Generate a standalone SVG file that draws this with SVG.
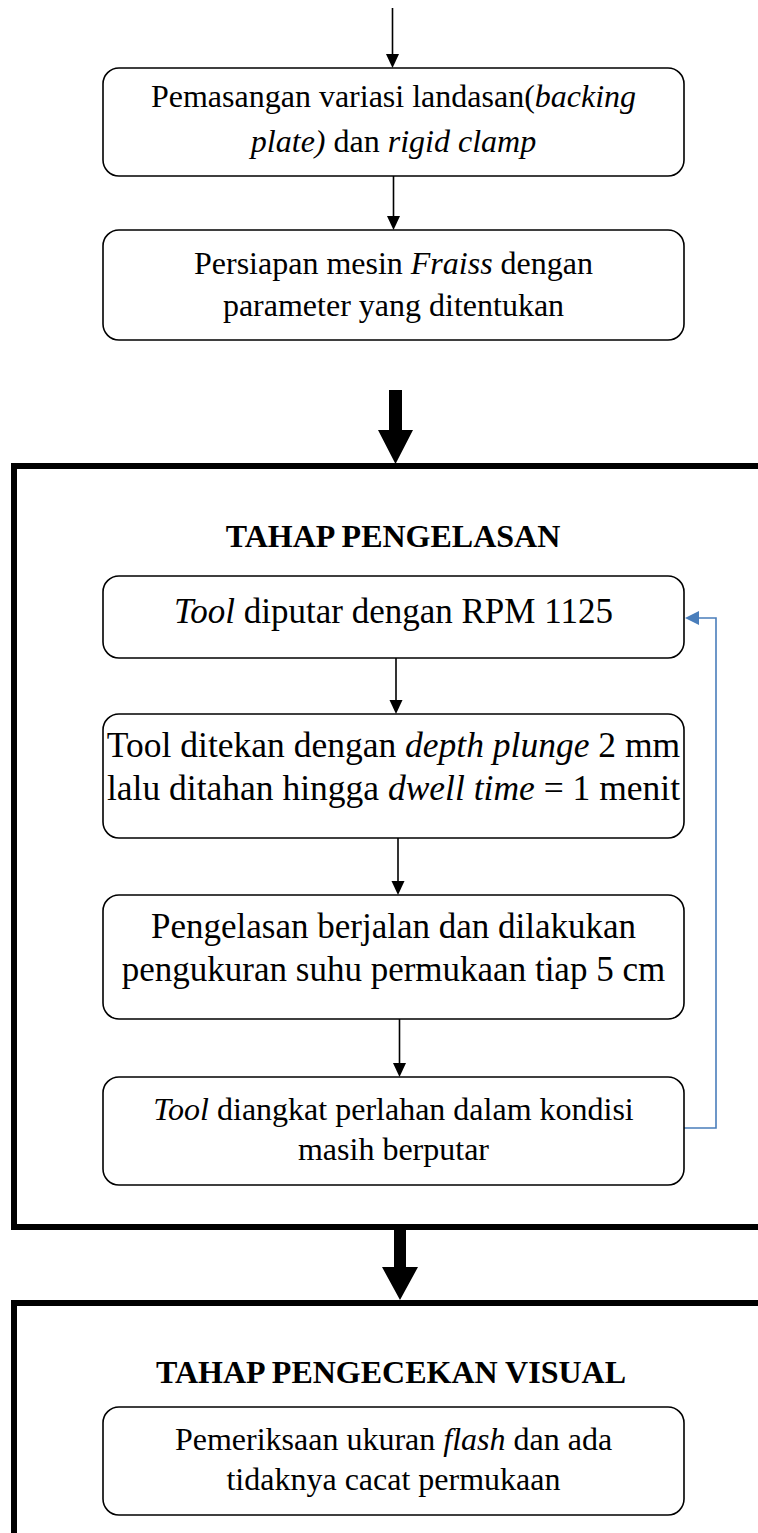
<svg xmlns="http://www.w3.org/2000/svg" width="758" height="1533" viewBox="0 0 758 1533">
<style>
.box{fill:#fff;stroke:#000;stroke-width:1.6}
.t{font-family:"Liberation Serif","Times New Roman",serif;font-size:32px;fill:#000;text-anchor:middle}
.big{font-size:35px}
.h{font-family:"Liberation Serif","Times New Roman",serif;font-size:32px;font-weight:bold;fill:#000;text-anchor:middle}
.i{font-style:italic}
.ln{stroke:#000;stroke-width:1.6;fill:none}
.frame{stroke:#000;stroke-width:6;fill:none}
.blue{stroke:#4a7ebb;stroke-width:1.6;fill:none}
</style>
<rect width="758" height="1533" fill="#fff"/>
<g id="frames">
<path class="frame" d="M765 466 H14 V1227 H765"/>
<path class="frame" d="M765 1303 H14 V1540"/>
</g>
<g id="connectors">
<line class="ln" x1="392.5" y1="8" x2="392.5" y2="55"/>
<polygon points="386,54 399,54 392.5,68"/>
<line class="ln" x1="393.5" y1="172" x2="393.5" y2="217"/>
<polygon points="387,216 400,216 393.5,230"/>
<polygon points="389,390 402,390 402,430 413,430 395.5,464 378,430 389,430"/>
<line class="ln" x1="396" y1="655" x2="396" y2="701"/>
<polygon points="389.5,700 402.5,700 396,714"/>
<line class="ln" x1="398" y1="835" x2="398" y2="882"/>
<polygon points="391.5,881 404.5,881 398,895"/>
<line class="ln" x1="399.5" y1="1016" x2="399.5" y2="1064"/>
<polygon points="393,1063 406,1063 399.5,1077"/>
<polygon points="394,1230 406,1230 406,1267 418,1267 400,1300 382,1267 394,1267"/>
<path class="blue" d="M684 1128 H716 V618 H698"/>
<polygon fill="#4a7ebb" points="699,611 699,625 685,618"/>
</g>
<g id="n1"><rect class="box" x="103" y="68" width="581" height="108" rx="16"/>
<text class="t" x="393.5" y="107">Pemasangan variasi landasan(<tspan class="i">backing</tspan></text>
<text class="t" x="393.5" y="152"><tspan class="i">plate)</tspan> dan <tspan class="i">rigid clamp</tspan></text></g>
<g id="n2"><rect class="box" x="103" y="230" width="581" height="110" rx="16"/>
<text class="t" x="393.5" y="274">Persiapan mesin <tspan class="i">Fraiss</tspan> dengan</text>
<text class="t" x="393.5" y="316">parameter yang ditentukan</text></g>
<g id="title1"><text class="h" x="393" y="547">TAHAP PENGELASAN</text></g>
<g id="n3"><rect class="box" x="103" y="576" width="581" height="82" rx="16"/>
<text class="t big" x="393.5" y="623"><tspan class="i">Tool</tspan> diputar dengan RPM 1125</text></g>
<g id="n4"><rect class="box" x="103" y="714" width="581" height="124" rx="16"/>
<text class="t big" x="393.5" y="757" style="font-size:35.5px">Tool ditekan dengan <tspan class="i">depth plunge</tspan> 2 mm</text>
<text class="t big" x="393.5" y="800" style="font-size:35.5px">lalu ditahan hingga <tspan class="i">dwell time</tspan> = 1 menit</text></g>
<g id="n5"><rect class="box" x="103" y="895" width="581" height="124" rx="16"/>
<text class="t big" x="393.5" y="938">Pengelasan berjalan dan dilakukan</text>
<text class="t big" x="393.5" y="981">pengukuran suhu permukaan tiap 5 cm</text></g>
<g id="n6"><rect class="box" x="103" y="1077" width="581" height="108" rx="16"/>
<text class="t" x="393.5" y="1120"><tspan class="i">Tool</tspan> diangkat perlahan dalam kondisi</text>
<text class="t" x="393.5" y="1160">masih berputar</text></g>
<g id="title2"><text class="h" x="391" y="1383">TAHAP PENGECEKAN VISUAL</text></g>
<g id="n7"><rect class="box" x="103" y="1407" width="581" height="108" rx="16"/>
<text class="t" x="393.5" y="1450">Pemeriksaan ukuran <tspan class="i">flash</tspan> dan ada</text>
<text class="t" x="393.5" y="1490">tidaknya cacat permukaan</text></g>
</svg>
